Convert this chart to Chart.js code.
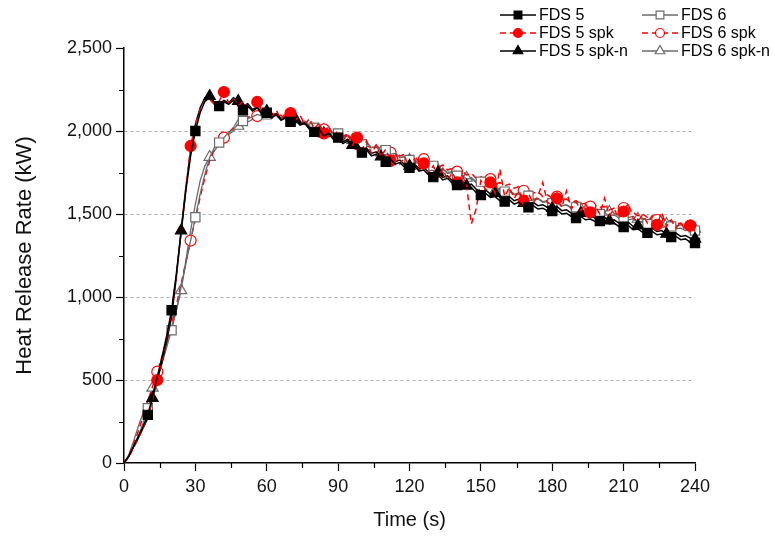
<!DOCTYPE html>
<html>
<head>
<meta charset="utf-8">
<title>Heat Release Rate</title>
<script src="https://cdn.jsdelivr.net/npm/chart.js@4.4.1/dist/chart.umd.min.js"></script>
<style>
  html, body { margin: 0; padding: 0; background: #fff; }
  canvas { display: block; }
</style>
</head>
<body>
<canvas id="hrr" width="775" height="536"></canvas>
<script>
// time (s), one sample every 2 s
const times = [
  0, 2, 4, 6, 8, 10, 12, 14, 16, 18,
  20, 22, 24, 26, 28, 30, 32, 34, 36, 38,
  40, 42, 44, 46, 48, 50, 52, 54, 56, 58,
  60, 62, 64, 66, 68, 70, 72, 74, 76, 78,
  80, 82, 84, 86, 88, 90, 92, 94, 96, 98,
  100, 102, 104, 106, 108, 110, 112, 114, 116, 118,
  120, 122, 124, 126, 128, 130, 132, 134, 136, 138,
  140, 142, 144, 146, 148, 150, 152, 154, 156, 158,
  160, 162, 164, 166, 168, 170, 172, 174, 176, 178,
  180, 182, 184, 186, 188, 190, 192, 194, 196, 198,
  200, 202, 204, 206, 208, 210, 212, 214, 216, 218,
  220, 222, 224, 226, 228, 230, 232, 234, 236, 238,
  240
];

// heat release rate (kW)
const fds5 = [
  0, 40, 100, 160, 220, 290, 400, 520, 640, 770,
  920, 1140, 1390, 1640, 1850, 2000, 2110, 2180, 2200, 2175,
  2150, 2175, 2160, 2185, 2150, 2125, 2150, 2120, 2140, 2100,
  2110, 2080, 2100, 2065, 2080, 2055, 2065, 2035, 2045, 2010,
  1995, 2010, 1970, 1985, 1950, 1960, 1925, 1940, 1900, 1915,
  1870, 1885, 1850, 1860, 1830, 1815, 1830, 1800, 1810, 1780,
  1778, 1790, 1760, 1765, 1735, 1722, 1735, 1705, 1715, 1685,
  1675, 1685, 1655, 1660, 1630, 1614, 1625, 1600, 1605, 1580,
  1575, 1585, 1560, 1570, 1545, 1540, 1550, 1530, 1535, 1520,
  1518, 1525, 1500, 1505, 1485, 1476, 1485, 1465, 1470, 1455,
  1458, 1460, 1440, 1445, 1425, 1422, 1430, 1405, 1410, 1390,
  1386, 1395, 1375, 1380, 1360, 1361, 1365, 1345, 1350, 1330,
  1325
];

const fds5Spk = [
  0, 35, 90, 150, 210, 280, 380, 500, 620, 760,
  910, 1130, 1390, 1650, 1910, 2040, 2130, 2180, 2190, 2160,
  2180, 2235, 2170, 2195, 2150, 2180, 2140, 2165, 2175, 2120,
  2130, 2080, 2125, 2070, 2110, 2108, 2060, 2095, 2040, 2075,
  2010, 2050, 1985, 2030, 1965, 2005, 1940, 1985, 1915, 1960,
  1890, 1940, 1865, 1915, 1845, 1890, 1820, 1870, 1800, 1845,
  1780, 1830, 1760, 1805, 1745, 1790, 1720, 1775, 1700, 1750,
  1690, 1740, 1670, 1440, 1530, 1700, 1645, 1690, 1625, 1770,
  1605, 1660, 1595, 1640, 1580, 1625, 1565, 1610, 1690, 1570,
  1555, 1595, 1540, 1640, 1530, 1575, 1520, 1560, 1510, 1545,
  1500, 1595, 1490, 1530, 1475, 1515, 1565, 1475, 1455, 1495,
  1445, 1490, 1435, 1510, 1425, 1465, 1415, 1450, 1400, 1430,
  1395
];

const fds5SpkN = [
  0, 40, 95, 150, 210, 270, 390, 500, 610, 740,
  880, 1120, 1400, 1660, 1880, 2040, 2140, 2200, 2210, 2170,
  2160, 2185, 2170, 2200, 2180, 2150, 2165, 2130, 2145, 2110,
  2120, 2090, 2105, 2075, 2085, 2060, 2070, 2040, 2050, 2020,
  2005, 2020, 1985, 1995, 1960, 1970, 1935, 1950, 1915, 1925,
  1885, 1895, 1865, 1875, 1845, 1830, 1845, 1815, 1825, 1795,
  1790, 1800, 1775, 1780, 1750, 1740, 1750, 1720, 1730, 1700,
  1690, 1700, 1670, 1680, 1650, 1635, 1645, 1620, 1625, 1600,
  1595, 1605, 1580, 1590, 1565, 1560, 1570, 1550, 1555, 1540,
  1535, 1545, 1520, 1525, 1505, 1498, 1505, 1485, 1490, 1475,
  1478, 1480, 1460, 1465, 1445, 1442, 1450, 1425, 1430, 1410,
  1406, 1415, 1395, 1400, 1380, 1380, 1385, 1365, 1370, 1355,
  1350
];

const fds6 = [
  0, 40, 100, 160, 240, 330, 420, 510, 600, 700,
  800, 920, 1060, 1200, 1340, 1480, 1620, 1740, 1840, 1900,
  1930, 1960, 1990, 2010, 2040, 2060, 2075, 2085, 2100, 2090,
  2100, 2080, 2095, 2070, 2080, 2060, 2070, 2045, 2050, 2030,
  2020, 2030, 2000, 2010, 1980, 1985, 1960, 1970, 1940, 1950,
  1920, 1930, 1900, 1905, 1880, 1885, 1860, 1865, 1840, 1845,
  1825, 1830, 1800, 1810, 1785, 1790, 1765, 1770, 1745, 1750,
  1730, 1735, 1710, 1715, 1690, 1695, 1670, 1675, 1650, 1655,
  1635, 1640, 1620, 1625, 1605, 1610, 1590, 1595, 1575, 1580,
  1565, 1570, 1550, 1555, 1535, 1540, 1520, 1525, 1510, 1515,
  1500, 1505, 1490, 1495, 1475, 1480, 1465, 1470, 1450, 1455,
  1440, 1445, 1430, 1435, 1420, 1425, 1410, 1415, 1400, 1405,
  1400
];

const fds6Spk = [
  0, 45, 110, 190, 280, 370, 460, 550, 640, 740,
  840, 950, 1080, 1210, 1340, 1470, 1600, 1720, 1820, 1890,
  1920, 1960, 1990, 2020, 2040, 2060, 2080, 2100, 2090, 2110,
  2090, 2110, 2080, 2095, 2070, 2085, 2060, 2070, 2040, 2055,
  2030, 2040, 2010, 2020, 1990, 2000, 1970, 1980, 1950, 1920,
  1930, 1910, 1900, 1915, 1885, 1895, 1870, 1880, 1850, 1860,
  1840, 1850, 1815, 1830, 1800, 1810, 1780, 1795, 1765, 1775,
  1755, 1760, 1735, 1745, 1715, 1725, 1700, 1710, 1680, 1690,
  1670, 1680, 1655, 1665, 1640, 1650, 1625, 1635, 1605, 1615,
  1595, 1605, 1585, 1590, 1570, 1580, 1560, 1565, 1545, 1555,
  1540, 1545, 1525, 1535, 1515, 1536, 1505, 1510, 1490, 1500,
  1480, 1485, 1464, 1475, 1455, 1460, 1440, 1445, 1420, 1430,
  1425
];

const fds6SpkN = [
  0, 50, 130, 220, 300, 380, 452, 540, 630, 720,
  820, 920, 1040, 1220, 1400, 1560, 1700, 1790, 1843, 1880,
  1920, 1950, 1980, 2000, 2030, 2040, 2054, 2070, 2080, 2090,
  2096, 2080, 2095, 2070, 2085, 2060, 2075, 2050, 2060, 2035,
  2030, 2035, 2005, 2015, 1990, 1995, 1965, 1975, 1945, 1955,
  1925, 1930, 1900, 1905, 1870, 1880, 1860, 1865, 1840, 1845,
  1825, 1830, 1805, 1810, 1790, 1795, 1765, 1770, 1750, 1755,
  1735, 1740, 1717, 1720, 1695, 1700, 1675, 1680, 1640, 1650,
  1630, 1635, 1615, 1620, 1590, 1600, 1585, 1590, 1570, 1575,
  1560, 1565, 1550, 1555, 1540, 1545, 1530, 1535, 1524, 1530,
  1515, 1520, 1512, 1505, 1490, 1495, 1480, 1485, 1470, 1475,
  1460, 1465, 1450, 1455, 1440, 1445, 1430, 1435, 1420, 1425,
  1410
];

const xTicks = [0, 30, 60, 90, 120, 150, 180, 210, 240];
const xMinor = [15, 45, 75, 105, 135, 165, 195, 225];
const yMinor = [250, 750, 1250, 1750, 2250];

const GRAY = '#6a6a6a';
const RED = '#ff0000';
const FONT = '"Liberation Sans", Arial, sans-serif';

// markers only every n samples, like the original plot
const every = (n, r) => ctx => (ctx.dataIndex > 0 && ctx.dataIndex % n === 0) ? r : 0;

const minorTicks = {
  id: 'minorTicks',
  afterDraw(chart) {
    const { ctx, chartArea, scales } = chart;
    ctx.save();
    ctx.strokeStyle = '#000';
    ctx.lineWidth = 1.2;
    ctx.beginPath();
    yMinor.forEach(v => {
      const y = Math.round(scales.y.getPixelForValue(v)) + 0.5;
      ctx.moveTo(chartArea.left - 5, y);
      ctx.lineTo(chartArea.left, y);
    });
    xMinor.forEach(v => {
      const x = Math.round(scales.x.getPixelForValue(v)) + 0.5;
      ctx.moveTo(x, chartArea.bottom);
      ctx.lineTo(x, chartArea.bottom + 5);
    });
    ctx.stroke();
    ctx.restore();
  }
};

const hrrLegend = {
  id: 'hrrLegend',
  afterDraw(chart) {
    const ctx = chart.ctx;
    ctx.save();
    ctx.font = '16px ' + FONT;
    ctx.textBaseline = 'middle';
    ctx.fillStyle = '#000';
    chart.data.datasets.forEach((ds, i) => {
      const col = i < 3 ? 0 : 1;
      const row = i % 3;
      const x0 = col ? 642 : 500;
      const x1 = x0 + 36;
      const y = 15 + row * 18;
      ctx.save();
      ctx.strokeStyle = ds.borderColor;
      ctx.lineWidth = ds.borderWidth;
      ctx.setLineDash(ds.borderDash || []);
      ctx.beginPath();
      ctx.moveTo(x0, y);
      ctx.lineTo(x1, y);
      ctx.stroke();
      ctx.setLineDash([]);
      ctx.fillStyle = ds.pointBackgroundColor;
      ctx.strokeStyle = ds.pointBorderColor;
      ctx.lineWidth = 1.2;
      Chart.helpers.drawPoint(ctx, {
        pointStyle: ds.pointStyle, radius: ds.legendRadius,
        borderWidth: 1.2, rotation: 0
      }, (x0 + x1) / 2, y);
      ctx.restore();
      ctx.fillText(ds.label, x1 + 3, y + 1);
    });
    ctx.restore();
  }
};

const series = (label, data, color, style, fill, n, r, dash) => ({
  label,
  data,
  borderColor: color,
  borderWidth: color === GRAY ? 1.3 : 1.5,
  borderDash: dash,
  pointStyle: style,
  pointRadius: every(n, r),
  pointHoverRadius: every(n, r),
  pointBackgroundColor: fill,
  pointBorderColor: color,
  pointBorderWidth: 1.2,
  legendRadius: r - 1,
  tension: 0,
  clip: false
});

new Chart(document.getElementById('hrr'), {
  type: 'line',
  data: {
    labels: times,
    datasets: [
      series('FDS 5', fds5, '#000', 'rect', '#000', 5, 6.5, []),
      series('FDS 5 spk', fds5Spk, RED, 'circle', RED, 7, 5.5, [6, 4]),
      series('FDS 5 spk-n', fds5SpkN, '#000', 'triangle', '#000', 6, 6.5, []),
      series('FDS 6', fds6, GRAY, 'rect', '#fff', 5, 6.5, []),
      series('FDS 6 spk', fds6Spk, RED, 'circle', '#fff', 7, 5.5, [6, 4]),
      series('FDS 6 spk-n', fds6SpkN, GRAY, 'triangle', '#fff', 6, 6.5, [])
    ]
  },
  options: {
    responsive: false,
    animation: false,
    layout: { padding: { left: 10, right: 80, top: 48, bottom: 0 } },
    plugins: {
      legend: { display: false },
      tooltip: { enabled: false }
    },
    scales: {
      x: {
        type: 'linear',
        min: 0,
        max: 240,
        afterBuildTicks: s => { s.ticks = xTicks.map(v => ({ value: v })); },
        afterFit: s => { s.height = 73; },
        ticks: {
          color: '#111',
          padding: 5,
          maxRotation: 0,
          font: { family: FONT, size: 18 }
        },
        grid: {
          drawOnChartArea: false,
          tickLength: 8,
          tickColor: '#000',
          tickWidth: 1.2
        },
        border: { color: '#000', width: 1.5 },
        title: {
          display: true,
          text: 'Time (s)',
          color: '#111',
          font: { family: FONT, size: 20 }
        }
      },
      y: {
        min: 0,
        max: 2500,
        afterFit: s => { s.width = 114; },
        ticks: {
          stepSize: 500,
          color: '#111',
          padding: 4,
          font: { family: FONT, size: 18 },
          callback: v => v.toLocaleString('en-US')
        },
        grid: {
          color: c => (c.tick && c.tick.value > 0 && c.tick.value < 2500) ? '#aaaaaa' : 'rgba(0,0,0,0)',
          lineWidth: 1,
          tickLength: 8,
          tickColor: '#000',
          tickWidth: 1.2,
          tickBorderDash: []
        },
        border: { color: '#000', width: 1.5, dash: [3, 3] },
        title: {
          display: true,
          text: 'Heat Release Rate (kW)',
          color: '#111',
          padding: { top: 2, bottom: 4 },
          font: { family: FONT, size: 22 }
        }
      }
    }
  },
  plugins: [minorTicks, hrrLegend]
});
</script>
</body>
</html>
